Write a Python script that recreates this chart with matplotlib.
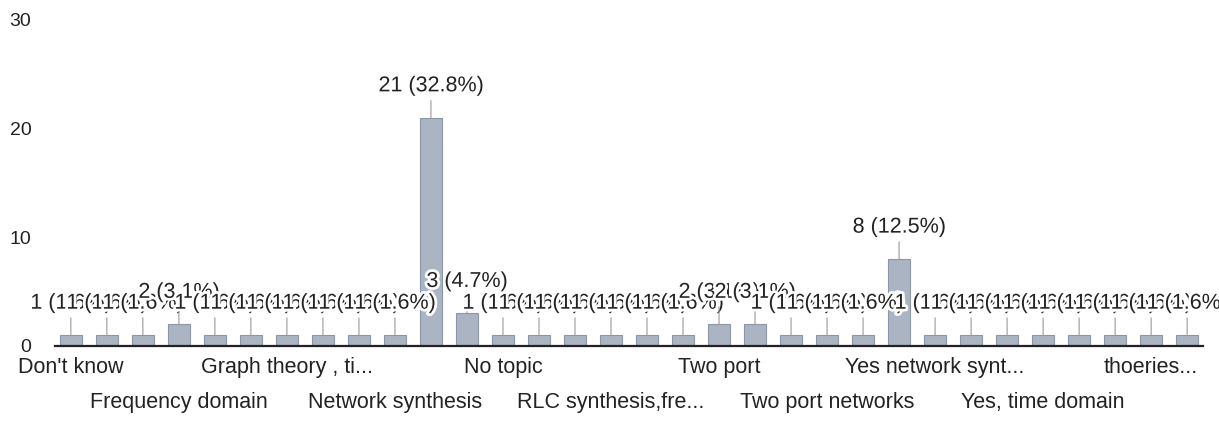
import numpy as np
from matplotlib import pyplot as plt
import matplotlib.patheffects as pe

plt.rcParams['font.family'] = ['Liberation Sans', 'DejaVu Sans']

# counts per answer (64 responses, only every 3rd category name is shown)
values = [1, 1, 1, 2, 1, 1, 1, 1, 1, 1, 21, 3, 1, 1, 1, 1, 1, 1, 2, 2,
          1, 1, 1, 8, 1, 1, 1, 1, 1, 1, 1, 1]
shown_pos = [0, 3, 6, 9, 12, 15, 18, 21, 24, 27, 30]
shown_labels = ["Don't know", 'Frequency domain', 'Graph theory , ti...',
                'Network synthesis', 'No topic', 'RLC synthesis,fre...',
                'Two port', 'Two port networks', 'Yes network synt...',
                'Yes, time domain', 'thoeries...']
yticks = [0, 10, 20, 30]

total = sum(values)
x = np.arange(len(values))

fig = plt.figure(figsize=(12.19, 4.34), dpi=100)
ax = fig.add_axes([55/1219, (434-346)/434, (1203-55)/1219, (346-20)/434])

ax.bar(x, values, width=0.6, color='#aab4c2', edgecolor='#8c97a6', linewidth=0.8, zorder=2)

txt = '#222222'
halo = [pe.withStroke(linewidth=4, foreground='white')]
for i, v in enumerate(values):
    ax.annotate(f'{v} ({v/total*100:.1f}%)', xy=(i, v), xytext=(0, 23),
                textcoords='offset points', ha='center', va='center',
                fontsize=15.5, color=txt, path_effects=halo, zorder=3+i,
                arrowprops=dict(arrowstyle='-', color='#9a9a9a', lw=0.8,
                                shrinkA=1, shrinkB=0))

ax.set_xlim(-0.44, 31.44)
ax.set_ylim(0, 30)
ax.set_yticks(yticks)
ax.tick_params(axis='y', length=0, pad=17, labelsize=14, labelcolor=txt)
ax.set_xticks([])

for k, (p, lab) in enumerate(zip(shown_pos, shown_labels)):
    off = -22 if k % 2 == 0 else -57
    ax.annotate(lab, xy=(p, 0), xytext=(0, off / 1.389), textcoords='offset points',
                xycoords=('data', 'data'), ha='center', va='center',
                fontsize=15.5, color=txt, annotation_clip=False)

for s in ['top', 'right', 'left']:
    ax.spines[s].set_visible(False)
ax.spines['bottom'].set_color('#222222')
ax.spines['bottom'].set_linewidth(1.6)

plt.savefig('out.png', dpi=100)
